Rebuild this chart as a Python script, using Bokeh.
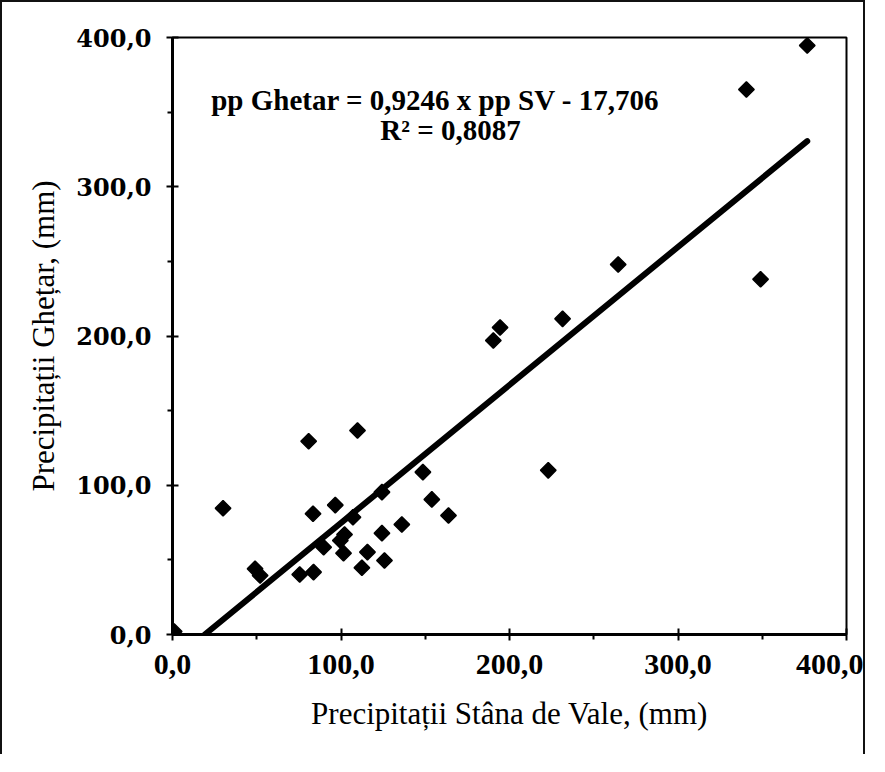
import numpy as np
from bokeh.plotting import figure
from bokeh.models import Range1d, FixedTicker, Label
from bokeh.embed import file_html
from bokeh.resources import INLINE

# ---- data ----
x_sv = [1, 30, 49, 52, 75.5, 80.8, 83.4, 83.7, 89.7, 96.6, 99.6, 101.5, 102.1,
        107.1, 109.8, 112.4, 115.7, 124.3, 124.3, 125.8, 136.1, 148.6, 153.9,
        163.8, 190.4, 194.4, 223, 231.5, 264.5, 340.6, 349, 376.7]
y_gh = [2, 84.6, 44, 39.5, 40.2, 129.5, 80.9, 41.8, 58.5, 86.7, 63, 54.5, 67,
        78.6, 136.7, 44.7, 55.2, 95.4, 67.9, 49.6, 73.7, 108.8, 90.5,
        79.7, 197, 205.7, 110, 211.5, 247.9, 365.2, 238, 394.6]
slope = 0.9246
intercept = -17.706
r2 = 0.8087
ticks = [0, 100, 200, 300, 400]
minor = [50, 150, 250, 350]
tick_labels = ["0,0", "100,0", "200,0", "300,0", "400,0"]
eq_line1 = "pp Ghetar = 0,9246 x pp SV - 17,706"
eq_line2 = "R\u00b2 = 0,8087"
x_title = "Precipitații Stâna de Vale, (mm)"
y_title = "Precipitații Ghețar, (mm)"

p = figure(width=865, height=754, output_backend="svg", toolbar_location=None,
           x_range=Range1d(0, 400), y_range=Range1d(0, 400),
           min_border_left=170, min_border_right=21, min_border_top=35,
           min_border_bottom=122)
p.styles = {"border-left": "2px solid #111", "border-top": "2px solid #111",
            "border-right": "2px solid #111"}
p.background_fill_color = "white"
p.border_fill_color = "white"
p.outline_line_color = "black"
p.outline_line_width = 2
p.xgrid.visible = False
p.ygrid.visible = False

# trend line from equation over the data range
x0 = -intercept / slope
x1 = max(x_sv)
xs = [x0, x1]
ys = [slope * v + intercept for v in xs]
p.line(xs, ys, line_color="black", line_width=6, line_cap="round")

p.scatter(x_sv, y_gh, marker="square", size=11, angle=np.pi / 4,
          fill_color="black", line_color="black", line_width=1.5)

overrides = {t: l for t, l in zip(ticks, tick_labels)}
for ax in (p.xaxis[0], p.yaxis[0]):
    ax.ticker = FixedTicker(ticks=ticks, minor_ticks=minor)
    ax.major_label_overrides = overrides
    ax.axis_line_width = 3
    ax.axis_line_color = "black"
    ax.major_tick_in = 6
    ax.major_tick_out = 6
    ax.major_tick_line_width = 2
    ax.minor_tick_in = 0
    ax.minor_tick_out = 5
    ax.minor_tick_line_width = 2
    ax.major_label_text_color = "black"
    ax.axis_label_text_color = "black"
    ax.axis_label_text_font = "Liberation Serif"
    ax.axis_label_text_font_style = "normal"
    ax.axis_label_text_font_size = "31px"

p.xaxis.major_label_text_font = "Liberation Serif"
p.xaxis.major_label_text_font_style = "bold"
p.xaxis.major_label_text_font_size = "30px"
p.xaxis.major_label_standoff = 14
p.xaxis.axis_label = x_title
p.xaxis.axis_label_standoff = 19

p.yaxis.major_label_text_font = "DejaVu Serif"
p.yaxis.major_label_text_font_style = "bold"
p.yaxis.major_label_text_font_size = "24px"
p.yaxis.major_label_standoff = 15
p.yaxis.axis_label = y_title
p.yaxis.axis_label_standoff = 12

p.add_layout(Label(x=156, y=358, text=eq_line1, text_font="Liberation Serif",
                   text_font_style="bold", text_font_size="29px",
                   text_align="center", text_baseline="middle", text_color="black"))
p.add_layout(Label(x=165, y=338, text=eq_line2, text_font="Liberation Serif",
                   text_font_style="bold", text_font_size="29px",
                   text_align="center", text_baseline="middle", text_color="black"))

open("out.html", "w").write(file_html(p, INLINE))
